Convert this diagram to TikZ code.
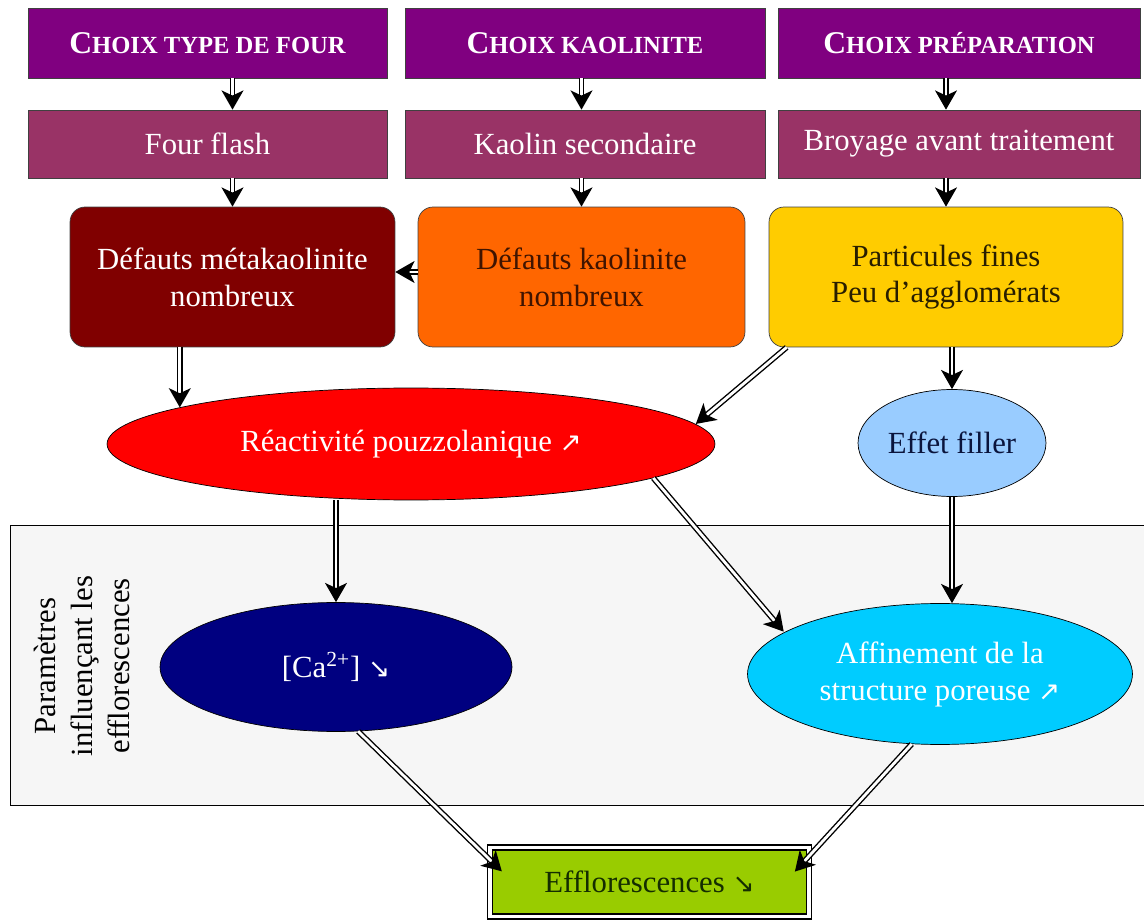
\documentclass[tikz,border=0pt]{standalone}
\usepackage{fontspec}
\setmainfont{Liberation Serif}
\newfontfamily\symb{DejaVu Sans}
\usetikzlibrary{arrows.meta,shapes.geometric,decorations.markings}
\definecolor{prune}{RGB}{128,0,128}
\definecolor{framboise}{RGB}{153,51,102}
\definecolor{bordeaux}{RGB}{128,0,0}
\definecolor{orange}{RGB}{255,102,0}
\definecolor{or}{RGB}{255,204,0}
\definecolor{rouge}{RGB}{255,0,0}
\definecolor{ciel}{RGB}{153,204,255}
\definecolor{marine}{RGB}{0,0,128}
\definecolor{azur}{RGB}{0,204,255}
\definecolor{anis}{RGB}{153,204,0}
\definecolor{brun}{RGB}{64,20,0}
\definecolor{sombre}{RGB}{40,30,0}
\definecolor{nuit}{RGB}{10,20,60}
\definecolor{foret}{RGB}{20,45,0}
\newcommand{\corps}{\fontsize{17.5}{21}\selectfont}
\newcommand{\petitecap}[2]{{\fontsize{18}{20}\selectfont #1}{\fontsize{14}{16}\selectfont #2}}
\newcommand{\monte}{{\symb\fontsize{15}{17}\selectfont ↗}}
\newcommand{\baisse}{{\symb\fontsize{15}{17}\selectfont ↘}}

\begin{document}
\begin{tikzpicture}[x=0.02cm, y=-0.02cm,
    titre/.style={rectangle, draw=black!75, fill=prune, text=white, minimum height=1.4cm, font=\bfseries},
    choix/.style={rectangle, draw=black!75, fill=framboise, text=white, minimum height=1.36cm, font=\corps},
    defaut/.style={rectangle, rounded corners=0.3cm, draw=black!75, minimum height=2.8cm, align=center, font=\corps},
    bulle/.style={ellipse, draw=black, align=center, font=\corps, inner sep=0pt},
    dbl/.style={double, double distance=1.6pt, line width=0.8pt, shorten >=7pt,
        decoration={markings, mark=at position 1 with {\fill[black] (0,0) -- (-11pt,6.3pt) -- (-8pt,0) -- (-11pt,-6.3pt) -- cycle;}},
        postaction={decorate}}]

    \useasboundingbox (0,0) rectangle (1144,922);

    % Parameters band
    \draw[fill=gray!7] (10,525) rectangle (1160,805);
    \node[rotate=90, align=center, font=\corps] (param) at (82,666) {Paramètres\\influençant les\\efflorescences};

    % Choices
    \node[titre, minimum width=7.18cm] (choix1) at (207.5,43) {\petitecap{C}{HOIX TYPE DE FOUR}};
    \node[titre, minimum width=7.2cm] (choix2) at (585,43) {\petitecap{C}{HOIX KAOLINITE}};
    \node[titre, minimum width=7.24cm] (choix3) at (959,43) {\petitecap{C}{HOIX PRÉPARATION}};

    \node[choix, minimum width=7.18cm] (four) at (207.5,144) {Four flash};
    \node[choix, minimum width=7.2cm] (kaolin) at (585,144) {Kaolin secondaire};
    \node[choix, minimum width=7.24cm] (broyage) at (959,144) {Broyage avant traitement};

    % Consequences
    \node[defaut, fill=bordeaux, text=white, minimum width=6.5cm] (defmeta) at (232.5,277) {Défauts métakaolinite\\nombreux};
    \node[defaut, fill=orange, text=brun, minimum width=6.54cm] (defkao) at (581.5,277) {Défauts kaolinite\\nombreux};
    \node[defaut, fill=or, text=sombre, minimum width=7.08cm] (partic) at (946,277) {Particules fines\\Peu d’agglomérats};

    \node[bulle, fill=rouge, text=white, minimum width=12.16cm, minimum height=2.24cm] (reac) at (411,444) {Réactivité pouzzolanique \monte};
    \node[bulle, fill=ciel, text=nuit, minimum width=3.76cm, minimum height=2.14cm] (filler) at (952,443) {Effet filler};

    \node[bulle, fill=marine, text=white, minimum width=7.04cm, minimum height=2.58cm] (ca) at (336,667) {[Ca\textsuperscript{2+}] \baisse};
    \node[bulle, fill=azur, text=white, minimum width=7.7cm, minimum height=2.82cm] (affin) at (940,674) {Affinement de la\\structure poreuse \monte};

    \node[rectangle, draw=black, double, double distance=2pt, line width=0.8pt, fill=anis, text=foret, font=\corps, minimum width=6.38cm, minimum height=1.38cm] (efflo) at (649.5,882) {Efflorescences \baisse};

    % Arrows
    \draw[dbl] (choix1.south -| defmeta) -- (four.north -| defmeta);
    \draw[dbl] (choix2.south -| defkao) -- (kaolin.north -| defkao);
    \draw[dbl] (choix3.south -| partic) -- (broyage.north -| partic);
    \draw[dbl] (four.south -| defmeta) -- (defmeta.north);
    \draw[dbl] (kaolin.south -| defkao) -- (defkao.north);
    \draw[dbl] (broyage.south -| partic) -- (partic.north);
    \draw[dbl] ([yshift=0.1cm]defkao.west) -- ([yshift=0.1cm]defkao.west -| defmeta.east);
    \draw[dbl] (defmeta.south -| reac.171) -- (reac.171);
    \draw[dbl] ([xshift=0.36cm]partic.south west) -- (reac.4);
    \draw[dbl] (partic.south -| filler) -- (filler.north);
    \draw[dbl] (reac.south -| ca) -- (ca.north);
    \draw[dbl] (reac.-8) -- (affin.165);
    \draw[dbl] (filler.south) -- (filler.south |- affin.north);
    \draw[dbl] (ca.-71) -- ([xshift=0.26cm, yshift=-0.5cm]efflo.north west);
    \draw[dbl] (affin.-112) -- ([xshift=-0.3cm, yshift=-0.5cm]efflo.north east);

\end{tikzpicture}
\end{document}
